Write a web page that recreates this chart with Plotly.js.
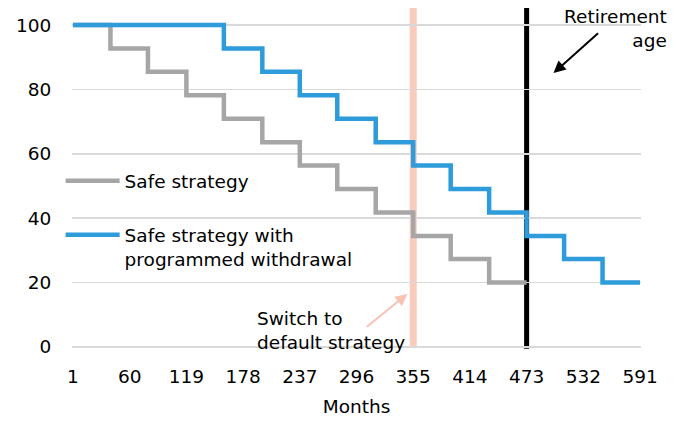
<!DOCTYPE html>
<html>
<head>
<meta charset="utf-8">
<script src="https://cdn.plot.ly/plotly-3.0.1.min.js"></script>
<style>html,body{margin:0;padding:0;background:#fff;}#chart{width:684px;height:421px;}</style>
</head>
<body>
<div id="chart"></div>
<script>
// Data
const seriesNames = ["Safe strategy", "Safe strategy with<br>programmed withdrawal"];
const safeMonths = [1, 40, 79, 119, 158, 198, 237, 276, 316, 355, 394, 434, 473];
const safeValues = [100, 92.7, 85.5, 78.2, 70.9, 63.6, 56.4, 49.1, 41.8, 34.5, 27.3, 20, 20];
const withdrawalMonths = [1, 158, 198, 237, 276, 316, 355, 394, 434, 473, 512, 552, 591];
const withdrawalValues = [100, 92.7, 85.5, 78.2, 70.9, 63.6, 56.4, 49.1, 41.8, 34.5, 27.3, 20, 20];
const xTickVals = [1, 60, 119, 178, 237, 296, 355, 414, 473, 532, 591];
const yTickVals = [0, 20, 40, 60, 80, 100];
const switchMonth = 355;
const retirementMonth = 473;

const FONT = "DejaVu Sans, Verdana, sans-serif";
const FS = 18.5;

const traces = [
  {x: safeMonths, y: safeValues, name: seriesNames[0], type: "scatter", mode: "lines",
   line: {shape: "hv", color: "#a6a6a6", width: 4.5}, legendgroup: "a"},
  {x: withdrawalMonths, y: withdrawalValues, name: seriesNames[1], type: "scatter", mode: "lines",
   line: {shape: "hv", color: "#2e9bda", width: 4.5}, legendgroup: "b"}
];

const layout = {
  width: 684, height: 421,
  margin: {l: 72, r: 43, t: 8, b: 74},
  paper_bgcolor: "#fff", plot_bgcolor: "#fff",
  font: {family: FONT, size: FS, color: "#000"},
  showlegend: true,
  legend: {x: -0.02, y: 0.545, xanchor: "left", yanchor: "top", bgcolor: "rgba(0,0,0,0)",
           font: {family: FONT, size: FS, color: "#000"}, itemwidth: 54, valign: "top",
           tracegroupgap: 27, traceorder: "grouped"},
  xaxis: {range: [0, 592], tickvals: xTickVals, ticktext: xTickVals.map(String),
          showgrid: false, zeroline: false, showline: false,
          ticks: "outside", ticklen: 13, tickcolor: "rgba(0,0,0,0)",
          tickfont: {family: FONT, size: FS},
          title: {text: "Months", font: {family: FONT, size: FS}, standoff: 13}},
  yaxis: {range: [0, 105.3], tickvals: yTickVals, showgrid: true, gridcolor: "#d9d9d9", gridwidth: 1.5,
          zeroline: true, zerolinecolor: "#d9d9d9", zerolinewidth: 1.5, showline: false,
          ticks: "outside", ticklen: 16, tickcolor: "rgba(0,0,0,0)",
          tickfont: {family: FONT, size: FS}},
  shapes: [
    {type: "line", layer: "below", xref: "x", yref: "paper", x0: switchMonth, x1: switchMonth, y0: 0, y1: 1,
     line: {color: "#f8cbbd", width: 7}},
    {type: "line", layer: "below", xref: "x", yref: "paper", x0: retirementMonth, x1: retirementMonth, y0: -0.005, y1: 1,
     line: {color: "#000", width: 5}}
  ],
  annotations: [
    {xref: "paper", yref: "paper", x: 1.049, y: 1.012, xanchor: "right", yanchor: "top", align: "right",
     text: "Retirement<br>age", showarrow: false, font: {family: FONT, size: FS, color: "#000"}},
    {xref: "x", yref: "y", x: retirementMonth + 28, y: 85.1, text: "", showarrow: true,
     arrowhead: 2, arrowsize: 1.2, arrowwidth: 2, arrowcolor: "#000", ax: 46, ay: -41, standoff: 0},
    {xref: "x", yref: "paper", x: 190, y: -0.023, xanchor: "left", yanchor: "bottom", align: "left",
     text: "Switch to<br>default strategy", showarrow: false, font: {family: FONT, size: FS, color: "#000"}},
    {xref: "x", yref: "y", x: switchMonth - 6, y: 16.5, text: "", showarrow: true,
     arrowhead: 2, arrowsize: 1.2, arrowwidth: 2, arrowcolor: "#f8c3b2", ax: -42, ay: 34, standoff: 0}
  ]
};

Plotly.newPlot("chart", traces, layout, {displayModeBar: false, staticPlot: true});
</script>
</body>
</html>
